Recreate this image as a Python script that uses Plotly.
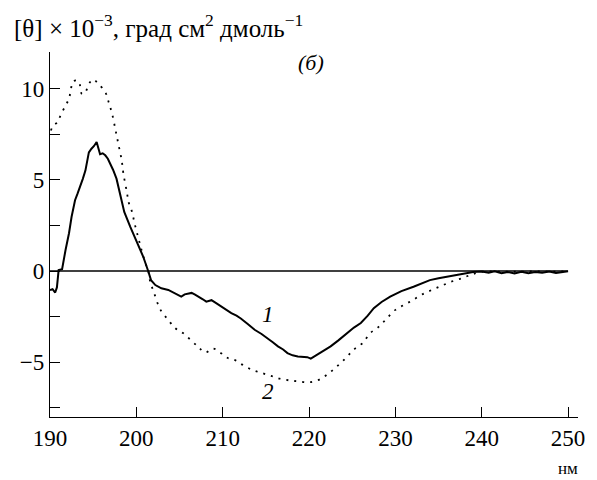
import plotly.graph_objects as go

# Curve 1 (solid)
wl1 = [190.0, 190.3, 190.6, 190.8, 191.0, 191.4, 191.8, 192.2, 192.5, 192.9, 193.2, 193.5,
       193.8, 194.1, 194.3, 194.5, 194.8, 195.1, 195.4, 195.6, 195.8, 196.1, 196.4, 196.7,
       197.0, 197.3, 197.7, 198.0, 198.3, 198.6, 199.3, 200.0, 200.8, 201.4, 201.7, 202.2,
       202.9, 203.7, 204.3, 204.8, 205.2, 205.6, 206.0, 206.4, 206.8, 207.2, 207.7, 208.1,
       208.7, 209.2, 209.8, 210.4, 211.0, 211.6, 212.1, 212.9, 213.7, 214.5, 215.2, 215.8,
       216.4, 217.0, 217.5, 218.1, 218.7, 219.3, 219.8, 220.2, 220.8, 221.5, 222.5, 223.4,
       224.4, 225.2, 226.0, 226.8, 227.5, 228.4, 229.4, 230.7, 232.1, 233.0, 234.0, 235.0,
       236.0, 237.0, 237.9, 239.0, 240.0, 240.8, 241.5, 242.3, 243.0, 243.8, 244.6, 245.4,
       246.2, 247.0, 247.8, 248.6, 249.4, 250.0]
v1 = [-1.05, -1.0, -1.18, -0.9, 0.05, 0.1, 1.15, 2.07, 2.97, 3.88, 4.25, 4.6,
      5.05, 5.5, 6.1, 6.5, 6.7, 6.85, 7.07, 6.7, 6.4, 6.45, 6.34, 6.15,
      5.88, 5.55, 5.06, 4.4, 3.9, 3.24, 2.42, 1.69, 0.78, -0.04, -0.5, -0.77,
      -0.95, -1.04, -1.2, -1.3, -1.4, -1.28, -1.25, -1.2, -1.3, -1.4, -1.55, -1.68,
      -1.6, -1.75, -1.95, -2.1, -2.31, -2.45, -2.6, -2.9, -3.22, -3.45, -3.68, -3.9,
      -4.13, -4.3, -4.5, -4.62, -4.68, -4.7, -4.72, -4.8, -4.62, -4.45, -4.13, -3.8,
      -3.4, -3.1, -2.85, -2.45, -2.04, -1.7, -1.4, -1.1, -0.86, -0.68, -0.5, -0.4,
      -0.31, -0.22, -0.16, -0.05, -0.03, -0.1, -0.02, -0.12, -0.05, -0.13, -0.04, -0.12,
      -0.06, -0.1, -0.03, -0.11, -0.05, -0.02]

# Curve 2 (dotted)
wl2 = [190.1, 190.4, 190.9, 191.2, 191.8, 192.2, 192.4, 192.7, 193.3, 193.7, 194.1, 194.5,
       195.0, 195.6, 196.4, 196.8, 197.2, 197.6, 197.9, 198.3, 198.5, 198.9, 199.1, 199.5,
       199.8, 200.2, 200.6, 201.0, 201.4, 201.6, 202.0, 202.8, 203.7, 204.5, 205.4, 207.1,
       208.0, 208.9, 209.8, 210.6, 211.5, 212.5, 213.6, 214.6, 215.6, 216.6, 217.8, 218.8,
       220.0, 221.2, 222.3, 223.3, 224.3, 225.2, 226.2, 227.1, 228.1, 229.0, 230.0, 231.0,
       232.0, 233.0, 234.2, 235.3, 236.5, 237.7, 238.8, 240.0, 242.0, 244.0, 246.0, 248.0,
       250.0]
v2 = [7.7, 7.98, 8.16, 8.5, 9.07, 9.44, 9.9, 10.4, 10.4, 9.7, 9.8, 10.25,
      10.5, 10.25, 9.8, 9.25, 8.6, 7.7, 7.0, 6.07, 5.34, 4.33, 3.78, 3.24,
      2.6, 1.87, 1.15, 0.5, -0.04, -0.58, -1.13, -2.13, -2.68, -3.13, -3.4, -4.13,
      -4.46, -4.25, -4.5, -4.77, -4.9, -5.2, -5.45, -5.6, -5.75, -5.9, -6.0, -6.05,
      -6.1, -5.95, -5.6, -5.2, -4.75, -4.3, -3.95, -3.4, -3.05, -2.6, -2.13, -1.86,
      -1.6, -1.31, -1.04, -0.82, -0.58, -0.4, -0.2, -0.05, -0.03, -0.04, -0.02, -0.03,
      -0.02]

y_tickvals = [-7.5, -5, -2.5, 0, 2.5, 5, 7.5, 10]
y_ticktext = ["", "\u22125", "", "0", "", "5", "", "10"]
x_tickvals = [190, 200, 210, 220, 230, 240, 250]
x_ticktext = ["190", "200", "210", "220", "230", "240", "250"]

FONT = "Liberation Serif"

fig = go.Figure()
fig.add_trace(go.Scatter(x=wl2, y=v2, mode="lines",
                         line=dict(color="black", width=1.8, dash="2px,6px"),
                         line_shape="spline", showlegend=False, hoverinfo="skip"))
fig.add_trace(go.Scatter(x=wl1, y=v1, mode="lines",
                         line=dict(color="black", width=2),
                         showlegend=False, hoverinfo="skip"))

fig.add_shape(type="line", xref="x", yref="y", x0=190, x1=250, y0=0, y1=0,
              line=dict(color="black", width=1.3), layer="below")

fig.update_layout(
    width=589, height=472,
    margin=dict(l=40, r=19, t=44, b=63),
    plot_bgcolor="white", paper_bgcolor="white",
    font=dict(family=FONT, size=23, color="black"),
    xaxis=dict(range=[190, 251.15], tickmode="array", tickvals=x_tickvals,
               ticktext=x_ticktext, ticks="inside", ticklen=10, tickwidth=1.2,
               tickcolor="black", showline=True, linecolor="black", linewidth=1.3,
               showgrid=False, zeroline=False, tickfont=dict(size=23, family=FONT)),
    yaxis=dict(range=[-8, 12], tickmode="array", tickvals=y_tickvals,
               ticktext=y_ticktext, ticks="inside", ticklen=10, tickwidth=1.2,
               tickcolor="black", showline=True, linecolor="black", linewidth=1.3,
               showgrid=False, zeroline=False, tickfont=dict(size=23, family=FONT)),
    annotations=[
        dict(text="[\u03b8] \u00d7 10<sup>\u22123</sup>, град см<sup>2</sup> дмоль<sup>\u22121</sup>",
             xref="paper", yref="paper", x=-0.072, y=1.072, xanchor="left",
             yanchor="middle", showarrow=False, font=dict(size=25, family=FONT)),
        dict(text="<i>(б)</i>", xref="x", yref="y", x=220.2, y=11.45,
             showarrow=False, font=dict(size=22, family=FONT)),
        dict(text="<i>1</i>", xref="x", yref="y", x=215.2, y=-2.4,
             showarrow=False, font=dict(size=23, family=FONT)),
        dict(text="<i>2</i>", xref="x", yref="y", x=215.2, y=-6.6,
             showarrow=False, font=dict(size=23, family=FONT)),
        dict(text="нм", xref="x", yref="paper", x=250, y=-0.14, yanchor="middle",
             showarrow=False, font=dict(size=17, family=FONT)),
    ],
)

fig.write_html("out.html")
